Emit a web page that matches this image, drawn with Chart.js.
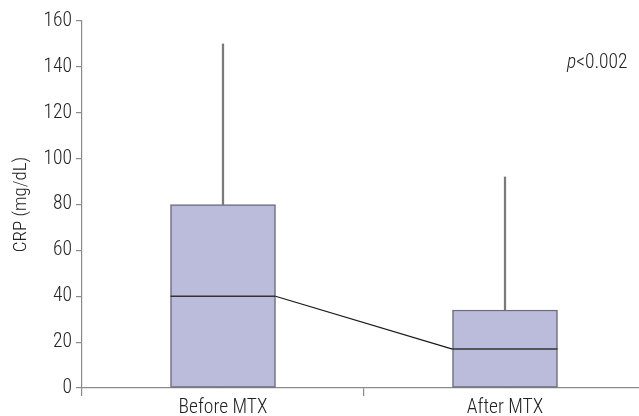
<!DOCTYPE html>
<html>
<head>
<meta charset="utf-8">
<script src="https://cdn.jsdelivr.net/npm/chart.js@4/dist/chart.umd.min.js"></script>
<style>
  html, body { margin: 0; padding: 0; background: #fff; overflow: hidden; }
  #wrap { position: relative; width: 639px; height: 416px; overflow: hidden; }
  #c { position: absolute; left: 0; top: 0; }
  #pval {
    position: absolute; left: 567px; top: 50px;
    font-family: "Roboto Condensed", "DejaVu Sans Condensed", sans-serif;
    font-weight: 300; font-size: 19.5px; color: #222; white-space: nowrap;
  }
</style>
</head>
<body>
<div id="wrap">
  <canvas id="c" width="646" height="416"></canvas>
  <div id="pval"><i>p</i>&lt;0.002</div>
</div>
<script>
// CRP before and after methotrexate: five-number summaries per group
const categories = ['Before MTX', 'After MTX'];
const minVals    = [0, 0];
const q1Vals     = [0, 0];
const medians    = [40, 17];
const q3Vals     = [80, 34];
const maxVals    = [150, 92];
const yTicks     = [0, 20, 40, 60, 80, 100, 120, 140, 160];

const FONT = '"Roboto Condensed", "DejaVu Sans Condensed", sans-serif';
const AXIS = '#8a8a8a';
const TEXT = '#222';

// Median segments across each box, plus the line joining the medians
const medianPlugin = {
  id: 'medianLines',
  afterDatasetsDraw(chart) {
    const meta = chart.getDatasetMeta(2);
    const y = chart.scales.y;
    const ctx = chart.ctx;
    ctx.save();
    ctx.strokeStyle = '#333';
    ctx.lineWidth = 1.5;
    const ends = [];
    meta.data.forEach((bar, i) => {
      const py = y.getPixelForValue(medians[i]);
      const half = bar.width / 2;
      ctx.beginPath();
      ctx.moveTo(bar.x - half, py);
      ctx.lineTo(bar.x + half, py);
      ctx.stroke();
      ends.push({ l: bar.x - half, r: bar.x + half, y: py });
    });
    ctx.strokeStyle = '#1a1a1a';
    ctx.lineWidth = 1.3;
    for (let i = 0; i < ends.length - 1; i++) {
      ctx.beginPath();
      ctx.moveTo(ends[i].r, ends[i].y);
      ctx.lineTo(ends[i + 1].l, ends[i + 1].y);
      ctx.stroke();
    }
    ctx.restore();
  }
};

const whiskerStyle = {
  backgroundColor: '#7a7a7a',
  borderWidth: 0,
  barThickness: 1.6,
  grouped: false,
};

new Chart(document.getElementById('c'), {
  type: 'bar',
  data: {
    labels: categories,
    datasets: [
      Object.assign({ label: 'upper whisker', data: categories.map((_, i) => [q3Vals[i], maxVals[i]]), order: 3 }, whiskerStyle),
      Object.assign({ label: 'lower whisker', data: categories.map((_, i) => [minVals[i], q1Vals[i]]), order: 3 }, whiskerStyle),
      {
        label: 'IQR',
        data: categories.map((_, i) => [q1Vals[i], q3Vals[i]]),
        backgroundColor: '#bbbbdb',
        borderColor: '#6c6c7c',
        borderWidth: 1.5,
        borderSkipped: false,
        barThickness: 105,
        grouped: false,
        order: 1,
      },
    ],
  },
  options: {
    responsive: false,
    animation: false,
    layout: { padding: { top: 21, right: 0, bottom: 0, left: 0 } },
    plugins: { legend: { display: false }, tooltip: { enabled: false } },
    scales: {
      x: {
        offset: true,
        grid: { offset: true, drawOnChartArea: false, tickLength: 8, color: AXIS, lineWidth: 1.2 },
        border: { display: true, color: AXIS, width: 1.2 },
        ticks: { color: TEXT, font: { family: FONT, size: 19.5, weight: 300 }, padding: 0 },
        afterFit(s) { s.height = 28; },
      },
      y: {
        min: 0,
        max: 160,
        afterBuildTicks(s) { s.ticks = yTicks.map(v => ({ value: v })); },
        grid: { drawOnChartArea: false, tickLength: 6, color: AXIS, lineWidth: 1.2 },
        border: { display: true, color: AXIS, width: 1.2 },
        ticks: { color: TEXT, font: { family: FONT, size: 19.5, weight: 300 }, padding: 4 },
        title: { display: true, text: 'CRP (mg/dL)', color: TEXT, font: { family: FONT, size: 19, weight: 300 }, padding: { top: 10, bottom: 0 } },
        afterFit(s) { s.width = 82; },
      },
    },
  },
  plugins: [medianPlugin],
});
</script>
</body>
</html>
